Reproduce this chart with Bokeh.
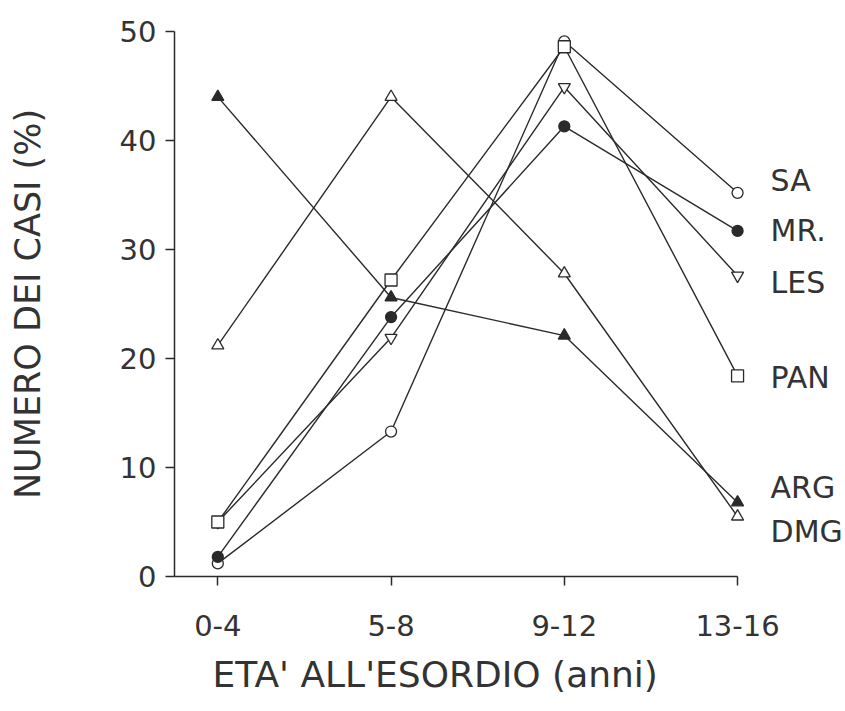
from bokeh.plotting import figure
from bokeh.models import FixedTicker, Range1d, Label, Title
from bokeh.embed import file_html
from bokeh.resources import INLINE

# ---- data ----
categories = ["0-4", "5-8", "9-12", "13-16"]
x_pos = [0, 1, 2, 3]
sa = [1.2, 13.3, 49.1, 35.2]
mr = [1.8, 23.8, 41.3, 31.7]
les = [5.0, 21.9, 44.9, 27.6]
pan = [5.0, 27.2, 48.6, 18.4]
arg = [44.0, 25.6, 22.1, 6.8]
dmg = [21.2, 44.0, 27.8, 5.5]
series_names = ["SA", "MR.", "LES", "PAN", "ARG", "DMG"]
label_y = [36.3, 31.7, 27.0, 18.3, 8.2, 4.1]
y_ticks = [0, 10, 20, 30, 40, 50]
x_title = "ETA' ALL'ESORDIO (anni)"
y_title = "NUMERO DEI CASI (%)"

INK = "#2a2a2a"
TXT = "#333333"
FONT = "DejaVu Sans"

p = figure(width=845, height=711,
           x_range=Range1d(-0.25, 3.623), y_range=Range1d(0, 50),
           output_backend="svg", toolbar_location=None,
           min_border_left=174, min_border_right=0,
           min_border_top=31, min_border_bottom=135)
p.outline_line_color = None
p.xgrid.grid_line_color = None
p.ygrid.grid_line_color = None
p.background_fill_color = "white"
p.border_fill_color = "white"

specs = [
    (sa, "circle", "white", 11),
    (mr, "circle", INK, 11),
    (les, "inverted_triangle", "white", 12),
    (pan, "square", "white", 12),
    (arg, "triangle", INK, 12),
    (dmg, "triangle", "white", 12),
]
for vals, marker, fill, size in specs:
    p.line(x_pos, vals, line_color=INK, line_width=1.4)
for vals, marker, fill, size in specs:
    p.scatter(x_pos, vals, marker=marker, size=size, fill_color=fill,
              line_color=INK, line_width=1.3)

for name, ly in zip(series_names, label_y):
    p.add_layout(Label(x=3.0, y=ly, x_offset=33, text=name,
                       text_align="left", text_baseline="middle",
                       text_font=FONT, text_font_size="30px",
                       text_color=TXT))

p.xaxis.ticker = FixedTicker(ticks=x_pos)
p.xaxis.major_label_overrides = {i: c for i, c in zip(x_pos, categories)}
p.xaxis.bounds = (-0.25, 3.0)
p.yaxis.ticker = FixedTicker(ticks=y_ticks)
p.yaxis.bounds = (0, 50)

p.yaxis.axis_label = y_title

for ax in (p.xaxis[0], p.yaxis[0]):
    ax.axis_line_color = INK
    ax.axis_line_width = 1.5
    ax.major_tick_line_color = INK
    ax.major_tick_line_width = 1.5
    ax.major_tick_in = 0
    ax.major_tick_out = 9
    ax.minor_tick_line_color = None
    ax.major_label_text_font = FONT
    ax.major_label_text_font_size = "29px"
    ax.major_label_text_color = TXT
    ax.axis_label_text_font = FONT
    ax.axis_label_text_font_size = "35px"
    ax.axis_label_text_font_style = "normal"
    ax.axis_label_text_color = TXT

p.yaxis.major_label_standoff = 9
p.yaxis.axis_label_standoff = 69
p.xaxis.major_label_standoff = 29

xt = Title(text=x_title, align="left", offset=38, standoff=26,
           text_font=FONT, text_font_size="36px", text_font_style="normal",
           text_color=TXT)
p.add_layout(xt, "below")

open("out.html", "w").write(file_html(p, INLINE))
